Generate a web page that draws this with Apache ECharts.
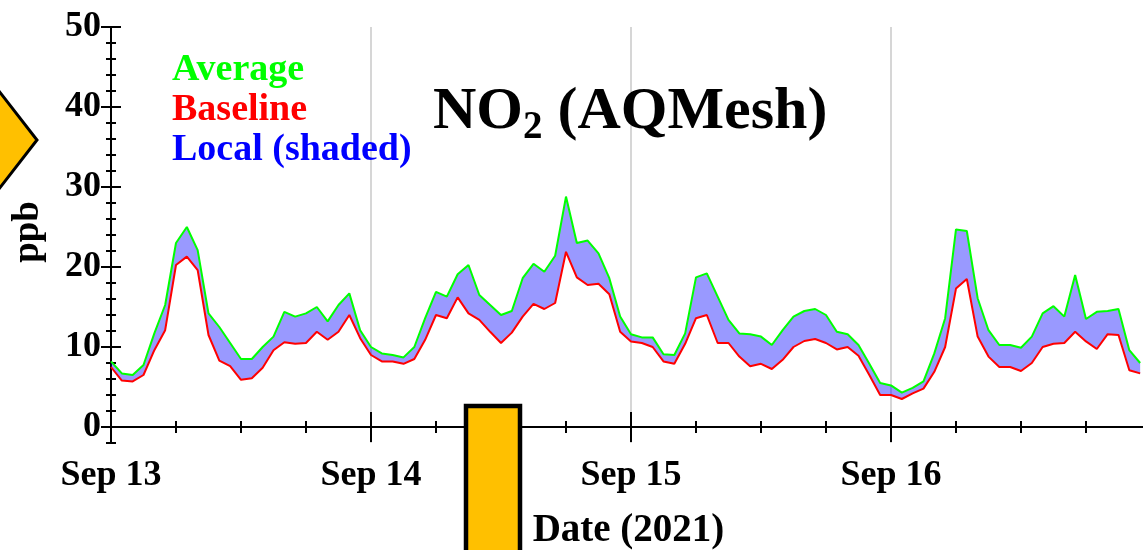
<!DOCTYPE html>
<html>
<head>
<meta charset="utf-8">
<title>NO2 (AQMesh)</title>
<script src="https://cdn.jsdelivr.net/npm/echarts@6/dist/echarts.min.js"></script>
<style>
  html, body { margin: 0; padding: 0; background: #fff; }
  #chart { width: 1143px; height: 550px; }
</style>
</head>
<body>
<div id="chart"></div>
<script>
// Hourly NO2 readings (ppb) from Sep 13 00:00 to Sep 16 23:00, 2021
const average = [
  8.2, 6.7, 6.5, 7.75, 11.7, 15.25, 23.0, 25.0, 22.1, 14.2, 12.5, 10.5,
  8.5, 8.5, 10.0, 11.3, 14.4, 13.8, 14.2, 15.0, 13.2, 15.25, 16.7, 12.1,
  10.0, 9.2, 9.0, 8.7, 10.0, 13.6, 16.9, 16.3, 19.1, 20.25, 16.5, 15.25,
  14.0, 14.5, 18.6, 20.4, 19.4, 21.4, 28.8, 23.0, 23.3, 21.7, 18.6, 13.8,
  11.6, 11.2, 11.2, 9.1, 9.0, 11.7, 18.7, 19.2, 16.3, 13.4, 11.7, 11.6,
  11.3, 10.25, 12.1, 13.8, 14.5, 14.75, 14.0, 11.9, 11.6, 10.25, 7.9, 5.5,
  5.2, 4.3, 4.9, 5.7, 9.2, 13.6, 24.7, 24.5, 16.1, 12.1, 10.25, 10.25,
  9.9, 11.3, 14.2, 15.1, 13.8, 19.0, 13.5, 14.4, 14.5, 14.75, 9.6, 8.0
];
const baseline = [
  7.5, 5.8, 5.7, 6.5, 9.6, 12.1, 20.25, 21.3, 19.6, 11.5, 8.3, 7.6,
  5.9, 6.1, 7.4, 9.6, 10.6, 10.4, 10.5, 11.9, 10.9, 11.9, 14.0, 11.1,
  9.0, 8.2, 8.2, 7.9, 8.5, 10.9, 14.0, 13.6, 16.2, 14.2, 13.4, 11.9,
  10.5, 11.8, 13.8, 15.4, 14.75, 15.5, 21.9, 18.7, 17.75, 17.9, 16.6, 11.9,
  10.7, 10.5, 10.0, 8.2, 7.9, 10.4, 13.6, 14.0, 10.5, 10.5, 8.8, 7.6,
  7.9, 7.25, 8.4, 10.0, 10.75, 11.0, 10.5, 9.7, 10.0, 8.9, 6.5, 4.0,
  4.0, 3.5, 4.2, 4.8, 6.9, 10.0, 17.3, 18.5, 11.3, 8.8, 7.5, 7.5,
  7.0, 8.0, 10.0, 10.4, 10.5, 11.9, 10.7, 9.75, 11.6, 11.5, 7.1, 6.7
];
const dayLabels = ['Sep 13', 'Sep 14', 'Sep 15', 'Sep 16'];
const yTickValues = [0, 10, 20, 30, 40, 50];

// time stamps for each hourly reading
const HOUR = 3600 * 1000;
const T0 = Date.UTC(2021, 8, 13, 0, 0, 0);
const times = average.map((_, i) => T0 + i * HOUR);
const avgPts = times.map((t, i) => [t, average[i]]);
const basePts = times.map((t, i) => [t, baseline[i]]);
const localPts = times.map((t, i) => [t, +(average[i] - baseline[i]).toFixed(3)]);

const SERIF = '"Liberation Serif", "Times New Roman", serif';
const X_MIN = 0, X_MAX = 95.54;          // hours after Sep 13 00:00
const Y_MIN = -2, Y_MAX = 50;
const frameLine = { show: true, lineStyle: { color: '#000', width: 2 } };
const tickFont = { color: '#000', fontFamily: SERIF, fontWeight: 'bold', fontSize: 36 };

// frame axes in hours: day ticks and 6-hour ticks, bottom and top
function xAxisDef(pos, step, tickLen, withLabels) {
  return {
    type: 'value', position: pos, min: X_MIN, max: X_MAX, interval: step,
    axisLine: frameLine,
    axisTick: { show: true, inside: true, length: tickLen, lineStyle: { color: '#000', width: 2 } },
    axisLabel: withLabels ? Object.assign({
      show: true, margin: 15,
      formatter: v => (v % 24 === 0 ? dayLabels[v / 24] : '')
    }, tickFont) : { show: false },
    splitLine: (withLabels ? { show: true, lineStyle: { color: '#c8c8c8', width: 1.5 } } : { show: false })
  };
}

function yAxisDef(pos, tickLen, major, withLabels) {
  const d = {
    type: 'value', position: pos, min: Y_MIN, max: Y_MAX, interval: 2,
    axisLine: frameLine,
    axisTick: { show: true, inside: true, length: tickLen, lineStyle: { color: '#000', width: 2 } },
    axisLabel: { show: false },
    splitLine: { show: false }
  };
  if (major) {
    d.axisTick.customValues = yTickValues;
    if (withLabels) {
      d.axisLabel = Object.assign({ show: true, customValues: yTickValues, margin: 10 }, tickFont);
    }
  }
  return d;
}

const xMain = xAxisDef('bottom', 24, 15, true);
xMain.name = 'Date (2021)';
xMain.nameLocation = 'middle';
xMain.nameGap = 68;
xMain.nameTextStyle = { color: '#000', fontFamily: SERIF, fontWeight: 'bold', fontSize: 39 };

const yMain = yAxisDef('left', 10, true, true);
yMain.name = 'ppb';
yMain.nameLocation = 'middle';
yMain.nameRotate = 90;
yMain.nameGap = 64;
yMain.nameTextStyle = { color: '#000', fontFamily: SERIF, fontWeight: 'bold', fontSize: 37, padding: [0, 0, 0, 6] };

// hidden time axis carrying the series over the same span
const xTime = {
  type: 'time', show: false, position: 'bottom',
  min: T0 + X_MIN * HOUR, max: T0 + X_MAX * HOUR,
  axisLine: { show: false }, axisTick: { show: false }, axisLabel: { show: false }, splitLine: { show: false }
};

const option = {
  animation: false,
  backgroundColor: '#fff',
  grid: { left: 111, top: 27, width: 1035, height: 416, containLabel: false, outerBoundsMode: 'none' },
  title: {
    text: '{a|NO}{b|2}{a| (AQMesh)}',
    left: 428, top: 76,
    textStyle: {
      rich: {
        a: { fontFamily: SERIF, fontWeight: 'bold', fontSize: 60, color: '#000', lineHeight: 62 },
        b: { fontFamily: SERIF, fontWeight: 'bold', fontSize: 39, color: '#000', lineHeight: 62, padding: [32, 0, 0, 0] }
      }
    }
  },
  legend: {
    orient: 'vertical', left: 162, top: 46,
    icon: 'none', itemWidth: 0, itemHeight: 36, itemGap: 2,
    selectedMode: false,
    textStyle: { fontFamily: SERIF, fontWeight: 'bold', fontSize: 38, lineHeight: 36 },
    data: [
      { name: 'Average', textStyle: { color: '#00ff00' } },
      { name: 'Baseline', textStyle: { color: '#ff0000' } },
      { name: 'Local (shaded)', textStyle: { color: '#0000ff' } }
    ]
  },
  xAxis: [
    xMain,
    xAxisDef('bottom', 6, 6, false),
    xAxisDef('top', 24, 15, false),
    xAxisDef('top', 6, 6, false),
    xTime
  ],
  yAxis: [
    yMain,
    yAxisDef('left', 5, false, false),
    yAxisDef('right', 10, true, false),
    yAxisDef('right', 5, false, false)
  ],
  series: [
    {
      name: 'Baseline', type: 'line', xAxisIndex: 4, yAxisIndex: 0,
      stack: 'band', data: basePts,
      symbol: 'none', z: 4, color: '#ff0000',
      lineStyle: { color: '#ff0000', width: 2 }
    },
    {
      name: 'Local (shaded)', type: 'line', xAxisIndex: 4, yAxisIndex: 0,
      stack: 'band', data: localPts,
      symbol: 'none', z: 2, color: '#0000ff',
      lineStyle: { width: 0, opacity: 0 },
      areaStyle: { color: 'rgba(0,0,255,0.4)', opacity: 1 }
    },
    {
      name: 'Average', type: 'line', xAxisIndex: 4, yAxisIndex: 0,
      data: avgPts,
      symbol: 'none', z: 5, color: '#00ff00',
      lineStyle: { color: '#00ff00', width: 2 }
    }
  ],
  graphic: [
    {
      type: 'polygon', z: 100,
      shape: { points: [[-12, 77], [37, 140], [-12, 203]] },
      style: { fill: '#ffc000', stroke: '#000', lineWidth: 3 }
    },
    {
      type: 'rect', z: 100,
      shape: { x: 466, y: 406, width: 54, height: 160 },
      style: { fill: '#ffc000', stroke: '#000', lineWidth: 4.5 }
    }
  ]
};

const chart = echarts.init(document.getElementById('chart'), null, { renderer: 'canvas' });
chart.setOption(option);
</script>
</body>
</html>
